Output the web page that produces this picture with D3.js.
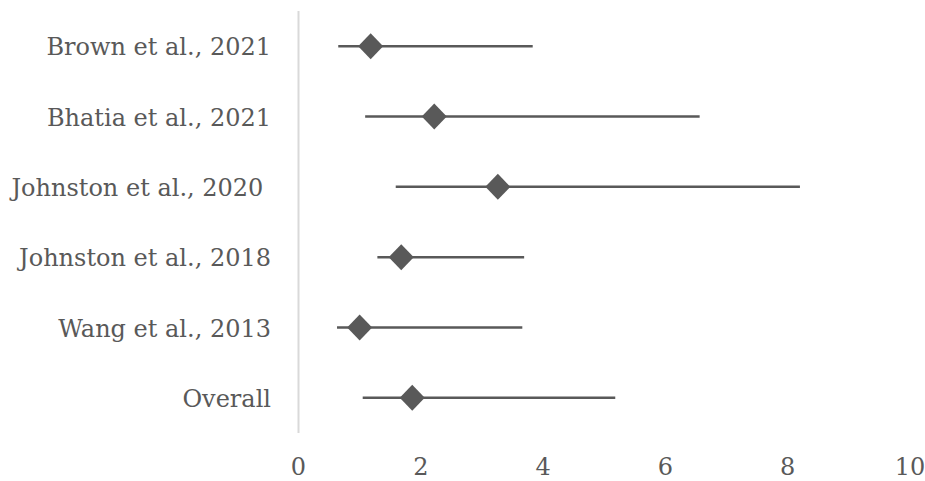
<!DOCTYPE html>
<html>
<head>
<meta charset="utf-8">
<script src="https://cdn.jsdelivr.net/npm/d3@7"></script>
<style>
  html, body { margin: 0; padding: 0; background: #fff; }
  svg { display: block; }
  text { white-space: pre; }
</style>
</head>
<body>
<svg id="chart" width="925" height="481"></svg>
<script>
const studies = ["Brown et al., 2021", "Bhatia et al., 2021", "Johnston et al., 2020 ", "Johnston et al., 2018", "Wang et al., 2013", "Overall"];
const estimates = [1.18, 2.22, 3.26, 1.68, 1.00, 1.86];
const lowerCI = [0.65, 1.09, 1.59, 1.29, 0.63, 1.05];
const upperCI = [3.83, 6.56, 8.20, 3.69, 3.66, 5.18];
const xTicks = [0, 2, 4, 6, 8, 10];

const svg = d3.select("#chart");
const font = "'DejaVu Serif', serif";
const color = "#595959";

const x = d3.scaleLinear().domain([0, 10]).range([298.5, 910]);
const y = d3.scaleBand().domain(studies).range([11, 433]).padding(0);
const cy = d => y(d) + y.bandwidth() / 2;

// vertical axis line
svg.append("line")
  .attr("x1", x(0)).attr("x2", x(0))
  .attr("y1", y.range()[0]).attr("y2", y.range()[1])
  .attr("stroke", "#d9d9d9").attr("stroke-width", 2);

// y labels
svg.append("g").selectAll("text").data(studies).join("text")
  .attr("x", 271)
  .attr("y", d => cy(d) + 9)
  .attr("text-anchor", "end")
  .attr("font-family", font)
  .attr("font-size", 24)
  .attr("fill", color)
  .text(d => d);

// x tick labels
svg.append("g").selectAll("text").data(xTicks).join("text")
  .attr("x", d => x(d))
  .attr("y", 475)
  .attr("text-anchor", "middle")
  .attr("font-family", font)
  .attr("font-size", 24)
  .attr("fill", color)
  .text(d => d);

const rows = studies.map((s, i) => ({ s, est: estimates[i], lo: lowerCI[i], hi: upperCI[i] }));

// CI lines
svg.append("g").selectAll("line").data(rows).join("line")
  .attr("x1", d => x(d.lo)).attr("x2", d => x(d.hi))
  .attr("y1", d => cy(d.s))
  .attr("y2", d => cy(d.s))
  .attr("stroke", color).attr("stroke-width", 2.5);

// diamonds
const dw = 12.5, dh = 13;
svg.append("g").selectAll("path").data(rows).join("path")
  .attr("transform", d => `translate(${x(d.est)},${cy(d.s)})`)
  .attr("d", `M0,${-dh} L${dw},0 L0,${dh} L${-dw},0 Z`)
  .attr("fill", color);
</script>
</body>
</html>
